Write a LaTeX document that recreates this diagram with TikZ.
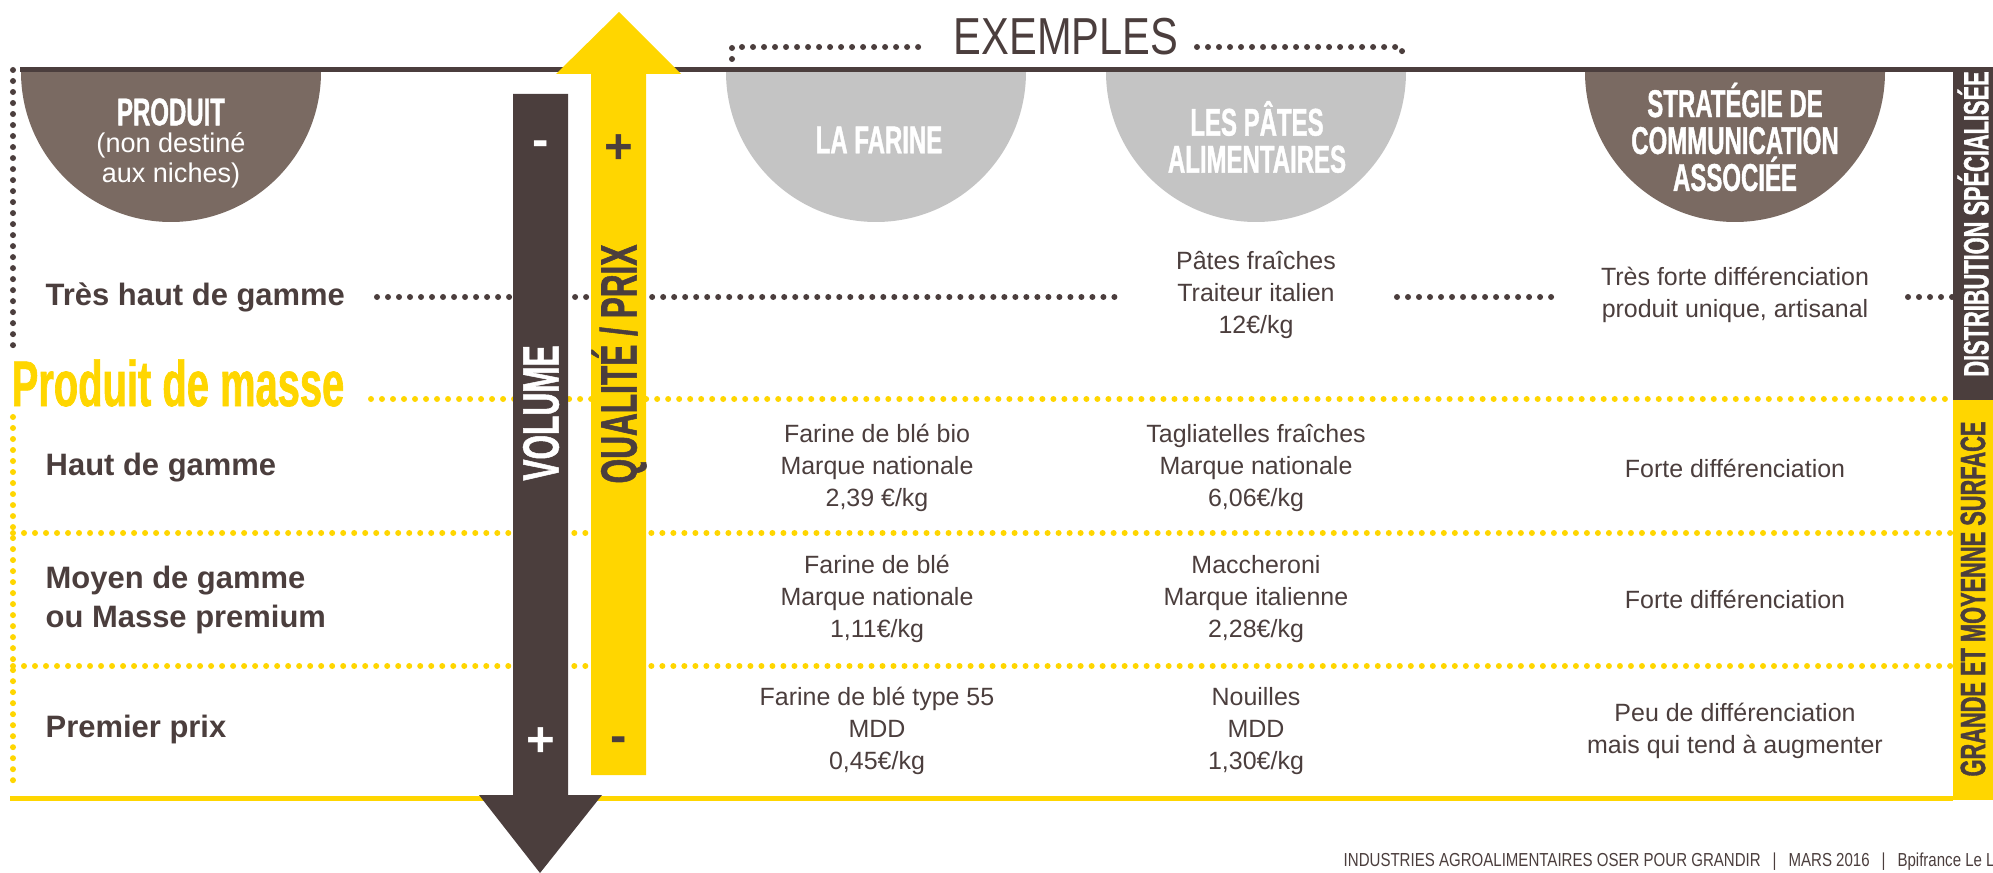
\documentclass[tikz,border=0pt]{standalone}
\usepackage{fontspec}
\setmainfont{Liberation Sans}
\newfontfamily\condfont[FakeStretch=0.62,FakeBold=1]{Liberation Sans Bold}
\newfontfamily\thinfont[FakeStretch=0.8]{Liberation Sans}
\usetikzlibrary{positioning}
\definecolor{darkbrown}{RGB}{75,62,61}
\definecolor{capbrown}{RGB}{122,106,98}
\definecolor{capgrey}{RGB}{196,196,196}
\definecolor{gold}{RGB}{255,214,0}
\tikzset{
dots/.style={line width=0.06cm,line cap=round,dash pattern=on 0pt off 0.11cm},
cell/.style={align=center,text=darkbrown,inner sep=0,font=\fontsize{7.1}{9.2}\selectfont},
rowlab/.style={anchor=west,align=left,text=darkbrown,inner sep=0,font=\bfseries\fontsize{8.8}{11.1}\selectfont},
title/.style={align=center,text=white,inner sep=0,font=\condfont\fontsize{11}{10.5}\selectfont},
axis/.style={rotate=90,inner sep=0,font=\condfont\fontsize{14.5}{14.5}\selectfont},
band/.style={rotate=90,inner sep=0,font=\condfont\fontsize{10}{10}\selectfont},
sign/.style={inner sep=0,font=\bfseries\fontsize{14}{14}\selectfont},
footer/.style={inner sep=0,text=darkbrown,font=\thinfont\fontsize{5.35}{5.35}\selectfont}
}
\begin{document}
\begin{tikzpicture}[x=0.01cm,y=-0.01cm,bowl/.pic={
\path[pic actions](-150,0)arc[start angle=180,end angle=0,radius=150]--cycle;
}]
\useasboundingbox(0,0)rectangle(1993,873);
\pic[fill=capbrown]at(171,72){bowl};
\pic[fill=capgrey]at(876,72){bowl};
\pic[fill=capgrey]at(1256,72){bowl};
\pic[fill=capbrown]at(1735,72){bowl};
\draw[darkbrown,line width=0.05cm](20,70)--(1993,70);
\node[title](produit)at(171,112){PRODUIT};
\node[align=center,text=white,inner sep=0,font=\fontsize{7.7}{8.5}\selectfont](niches)at(171,160){(non destiné\\aux niches)};
\node[title](farine)at(879,140){LA FARINE};
\node[title](pates)at(1257,137){LES PÂTES\\ALIMENTAIRES};
\node[title](strategie)at(1735,137){STRATÉGIE DE\\COMMUNICATION\\ASSOCIÉE};
\node[inner sep=0,text=darkbrown,font=\thinfont\fontsize{14.8}{14.8}\selectfont](exemples)at(1066,37){EXEMPLES};
\draw[dots,darkbrown](732,59)--(732,47)--(927,47);
\draw[dots,darkbrown](1197,47)--(1402,47)--(1402,59);
\draw[dots,darkbrown](13,70)--(13,347);
\draw[dots,gold](13,417)--(13,790);
\draw[dots,gold](371,399)--(1953,399);
\foreach \y in {533,666}\draw[dots,gold](13,\y)--(1953,\y);
\draw[dots,darkbrown](377,297)--(1122,297) (1397,297)--(1555,297) (1908,297)--(1953,297);
\draw[gold,line width=0.05cm](10,798)--(1953,798);
\fill[darkbrown](1953,68)rectangle(1993,400);
\fill[gold](1953,400)rectangle(1993,800);
\node[band,text=white](distrib)at(1973,224){DISTRIBUTION SPÉCIALISÉE};
\node[band,text=darkbrown](gms)at(1973,599){GRANDE ET MOYENNE SURFACE};
\fill[darkbrown](513,94)--(568,94)--(568,795)--(602,795)--(540,873)--(479,795)--(513,795)--cycle;
\fill[gold](591,775)--(646,775)--(646,74)--(681,74)--(619,12)--(556,74)--(591,74)--cycle;
\node[axis,text=white](volume)at(541,413){VOLUME};
\node[axis,text=darkbrown](qualite)at(619,364){QUALITÉ / PRIX};
\node[sign,text=white](volmoins)at(541,149){-};
\node[sign,text=white](volplus)at(541,742){+};
\node[sign,text=darkbrown](qualplus)at(619,149){+};
\node[sign,text=darkbrown](qualmoins)at(619,745){-};
\node[rowlab](tres)at(45,297){Très haut de gamme};
\node[anchor=west,inner sep=0,text=gold,font=\condfont\fontsize{18.3}{18.3}\selectfont](masse)at(11,383){Produit de masse};
\node[rowlab](haut)at(45,468){Haut de gamme};
\node[rowlab](moyen)at(45,600){Moyen de gamme\\ou Masse premium};
\node[rowlab](premier)at(45,729){Premier prix};
\node[cell](c12)at(1256,295){Pâtes fraîches\\Traiteur italien\\12€/kg};
\node[cell](c13)at(1735,295){Très forte différenciation\\produit unique, artisanal};
\node[cell](c21)at(877,468){Farine de blé bio\\Marque nationale\\2,39 €/kg};
\node[cell](c22)at(1256,468){Tagliatelles fraîches\\Marque nationale\\6,06€/kg};
\node[cell](c23)at(1735,468){Forte différenciation};
\node[cell](c31)at(877,599){Farine de blé\\Marque nationale\\1,11€/kg};
\node[cell](c32)at(1256,599){Maccheroni\\Marque italienne\\2,28€/kg};
\node[cell](c33)at(1735,599){Forte différenciation};
\node[cell](c41)at(877,731){Farine de blé type 55\\MDD\\0,45€/kg};
\node[cell](c42)at(1256,731){Nouilles\\MDD\\1,30€/kg};
\node[cell](c43)at(1735,731){Peu de différenciation\\mais qui tend à augmenter};
\node[footer,anchor=base west](footA)at(1343,866){INDUSTRIES AGROALIMENTAIRES OSER POUR GRANDIR};
\node[footer,base right=3pt of footA](sepA){|};
\node[footer,base right=3pt of sepA](footB){MARS 2016};
\node[footer,base right=3pt of footB](sepB){|};
\node[footer,base right=3pt of sepB](footC){Bpifrance Le L};
\end{tikzpicture}
\end{document}
